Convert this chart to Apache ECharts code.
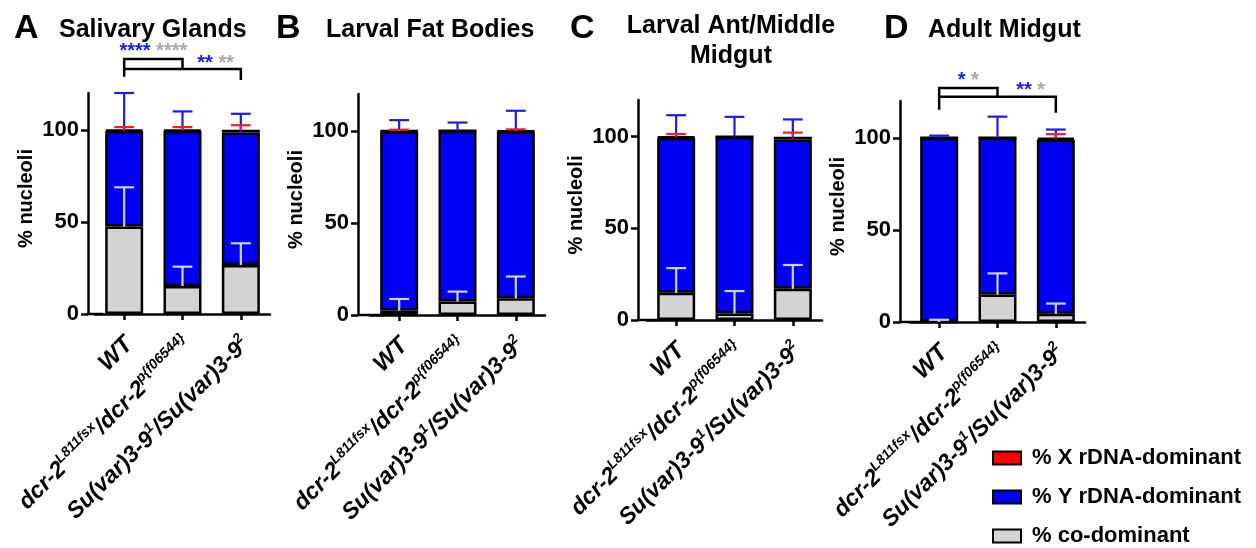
<!DOCTYPE html>
<html><head><meta charset="utf-8">
<script src="https://cdn.jsdelivr.net/npm/echarts@6/dist/echarts.min.js"></script>
<style>html,body{margin:0;padding:0;background:#fff;} #c{width:1256px;height:548px;}</style>
</head><body><div id="c"></div>
<script>
// ---------- data ----------
const categories = ['WT', 'dcr-2L811fsx/dcr-2p{f06544}', 'Su(var)3-91/Su(var)3-92'];
// label pieces: [style, text]  (n = normal, i = italic, s = superscript)
const labelParts = [
  [['n', 'WT']],
  [['i', 'dcr-2'], ['s', 'L811fsx'], ['i', '/dcr-2'], ['s', 'p{f06544}']],
  [['i', 'Su(var)3-9'], ['s', '1'], ['i', '/Su(var)3-9'], ['s', '2']]
];
const panelLetters = ['A', 'B', 'C', 'D'];
const panelTitles = ['Salivary Glands', 'Larval Fat Bodies', 'Larval Ant/Middle\nMidgut', 'Adult Midgut'];
const seriesNames = ['% co-dominant', '% Y rDNA-dominant', '% X rDNA-dominant'];
const legendOrder = ['% X rDNA-dominant', '% Y rDNA-dominant', '% co-dominant'];
const yTickValues = [0, 50, 100];
const yAxisName = '% nucleoli';

// Panel A – Salivary Glands
const coA = [47.5, 15.2, 26.6];
const coSdA = [21.3, 10.5, 11.8];
const yA = [51.9, 84.2, 71.9];
const ySdA = [20.6, 10.6, 10.2];
const xA = [0.6, 0.6, 1.5];
const xSdA = [1.5, 1.5, 2.5];

// Panel B – Larval Fat Bodies
const coB = [2.4, 7.3, 9.1];
const coSdB = [6.3, 5.4, 11.8];
const yB = [97.3, 92.7, 90.5];
const ySdB = [6.1, 4.5, 11.3];
const xB = [0.3, 0, 0.4];
const xSdB = [0.6, 0, 0.8];

// Panel C – Larval Ant/Middle Midgut
const coC = [14.8, 3.6, 17.0];
const coSdC = [13.5, 12.2, 13.0];
const yC = [84.6, 96.4, 81.5];
const ySdC = [12.3, 10.8, 10.9];
const xC = [0.6, 0, 1.5];
const xSdC = [1.4, 0, 2.2];

// Panel D – Adult Midgut
const coD = [0, 14.9, 4.5];
const coSdD = [1.2, 11.5, 5.5];
const yD = [100, 85.1, 94.5];
const ySdD = [1.2, 11.5, 5.5];
const xD = [0, 0, 1.0];
const xSdD = [0, 0, 2.0];

// significance stars (blue = Y rDNA, gray = co-dominant)
const sigA = [['****', '****'], ['**', '**']];
const sigD = [['*', '*'], ['**', '*']];

// ---------- layout / style ----------
const FONT = 'Arial, "Liberation Sans", Helvetica, sans-serif';
const panels = [
  {co: coA, coSd: coSdA, y: yA, ySd: ySdA, x: xA, xSd: xSdA},
  {co: coB, coSd: coSdB, y: yB, ySd: ySdB, x: xB, xSd: xSdB},
  {co: coC, coSd: coSdC, y: yC, ySd: ySdC, x: xC, xSd: xSdC},
  {co: coD, coSd: coSdD, y: yD, ySd: ySdD, x: xD, xSd: xSdD}
];
const grids = [
  {left: 95, top: 93, width: 175, height: 221, off: 7},
  {left: 370, top: 94, width: 175, height: 221, off: 12},
  {left: 647, top: 100, width: 175, height: 220, off: 9},
  {left: 910, top: 101, width: 175, height: 221, off: 10}
];
const COLORS = {co: '#d3d3d3', y: '#0000f5', x: '#ff0000'};
const ERR = {co: '#d2d2f4', y: '#1a1af5', x: '#ff1a1a'};

function richLabel(parts) {
  return parts.map(([st, txt]) => {
    if (txt.indexOf('}') < 0) return '{' + st + '|' + txt + '}';
    return txt.split('}').map(p => p ? '{' + st + '|' + p + '}' : '').join('}');
  }).join('');
}
const labelRich = labelParts.map(richLabel);
const richStyles = {
  n: {fontSize: 24, fontWeight: 'bold', fontFamily: FONT, color: '#000', padding: [14, 0, 0, 0]},
  i: {fontSize: 23, fontWeight: 'bold', fontStyle: 'italic', fontFamily: FONT, color: '#000', padding: [14, 0, 0, 0]},
  s: {fontSize: 14, fontWeight: 'bold', fontStyle: 'italic', fontFamily: FONT, color: '#000'}
};

function errRender(color) {
  return function (params, api) {
    const c = api.value(0), b = api.value(1), t = api.value(2);
    const p0 = api.coord([c, b]), p1 = api.coord([c, t]);
    const w = api.size([1, 0])[0] * 0.34;
    return {type: 'group', children: [
      {type: 'line', shape: {x1: p0[0], y1: p0[1], x2: p1[0], y2: p1[1]}, style: {stroke: color, lineWidth: 2.2}},
      {type: 'line', shape: {x1: p1[0] - w / 2, y1: p1[1], x2: p1[0] + w / 2, y2: p1[1]}, style: {stroke: color, lineWidth: 2.2}}
    ]};
  };
}

const option = {
  animation: false,
  backgroundColor: '#fff',
  title: [],
  grid: [], xAxis: [], yAxis: [], series: [],
  legend: {
    orient: 'vertical', left: 992, top: 447, height: 130, padding: 0,
    itemWidth: 28, itemHeight: 13, itemGap: 17,
    icon: 'rect', selectedMode: false, data: legendOrder,
    itemStyle: {borderColor: '#000', borderWidth: 2},
    textStyle: {fontSize: 22, fontWeight: 'bold', color: '#000', fontFamily: FONT, padding: [0, 0, 0, 6]}
  }
};

const letterPos = [{left: 9, top: 7}, {left: 271, top: 7}, {left: 565, top: 7}, {left: 879, top: 7}];
const titlePos = [{left: 54, top: 10}, {left: 321, top: 10}, {left: 726, top: 6, center: true}, {left: 923, top: 10}];

panels.forEach((p, i) => {
  const g = grids[i];
  option.title.push({left: letterPos[i].left, top: letterPos[i].top, text: panelLetters[i],
    textStyle: {fontSize: 34, fontWeight: 'bold', color: '#000', fontFamily: FONT}});
  option.title.push({left: titlePos[i].left, top: titlePos[i].top, text: panelTitles[i],
    textAlign: titlePos[i].center ? 'center' : 'left',
    textStyle: {fontSize: 25, fontWeight: 'bold', color: '#000', fontFamily: FONT, lineHeight: 30, align: titlePos[i].center ? 'center' : 'left'}});
  option.grid.push({left: g.left, top: g.top, width: g.width, height: g.height, containLabel: false, outerBoundsMode: 'none'});
  option.xAxis.push({
    type: 'category', gridIndex: i, data: categories,
    axisLine: {show: true, lineStyle: {color: '#000', width: 2.5}, symbol: ['rect', 'none'], symbolSize: [2.5, 2 * g.off + 2.5]},
    axisTick: {show: true, alignWithLabel: true, length: 6, lineStyle: {color: '#000', width: 2.5}},
    axisLabel: {interval: 0, rotate: 45, margin: 22, hideOverlap: false,
      fontSize: 14, fontWeight: 'bold', fontStyle: 'italic', fontFamily: FONT, color: '#000',
      formatter: (v, idx) => labelRich[idx], rich: richStyles}
  });
  option.yAxis.push({
    type: 'value', gridIndex: i, min: 0, max: 120, offset: g.off,
    axisLine: {show: true, lineStyle: {color: '#000', width: 2.5}},
    axisTick: {show: true, length: 7, lineStyle: {color: '#000', width: 2.5}, customValues: yTickValues},
    splitLine: {show: false},
    axisLabel: {fontSize: 22, fontWeight: 'bold', color: '#000', fontFamily: FONT, margin: 9, customValues: yTickValues},
    name: yAxisName, nameLocation: 'middle', nameGap: 52, nameMoveOverlap: false,
    nameTextStyle: {fontSize: 20, fontWeight: 'bold', color: '#000', fontFamily: FONT, padding: [0, 0, 0, 10]}
  });
  const common = {type: 'bar', xAxisIndex: i, yAxisIndex: i, stack: 'st' + i, barWidth: 38};
  option.series.push(Object.assign({}, common, {name: seriesNames[0], data: p.co,
    itemStyle: {color: COLORS.co, borderColor: '#000', borderWidth: 2.5}}));
  option.series.push(Object.assign({}, common, {name: seriesNames[1], data: p.y,
    itemStyle: {color: COLORS.y, borderColor: '#000', borderWidth: 2.5}}));
  option.series.push(Object.assign({}, common, {name: seriesNames[2], data: p.x,
    itemStyle: {color: COLORS.x, borderColor: '#000', borderWidth: 2.5}}));
  const errSets = [
    {key: 'co', base: j => p.co[j], sd: p.coSd},
    {key: 'y', base: j => p.co[j] + p.y[j], sd: p.ySd},
    {key: 'x', base: j => p.co[j] + p.y[j] + p.x[j], sd: p.xSd}
  ];
  errSets.forEach(es => {
    const data = [];
    categories.forEach((c, j) => { if (es.sd[j] > 0) data.push([j, es.base(j), es.base(j) + es.sd[j]]); });
    option.series.push({type: 'custom', xAxisIndex: i, yAxisIndex: i, clip: false, z: 5,
      renderItem: errRender(ERR[es.key]), encode: {x: 0, y: [1, 2]}, data: data, silent: true});
  });
});

const chart = echarts.init(document.getElementById('c'), null, {renderer: 'canvas'});
chart.setOption(option);

// significance brackets (positions in data units of each panel)
const bracketSpecs = [
  {panel: 0, sig: sigA, upper: 138.4, leftBottom: 128.8, midBottom: 133, lower: 133, rightBottom: 127, star1: 142.3, star2: 135.8},
  {panel: 3, sig: sigD, upper: 127, leftBottom: 115.2, midBottom: 122.3, lower: 122.3, rightBottom: 113.6, star1: 131, star2: 125.8}
];
const gfx = [];
bracketSpecs.forEach(b => {
  const P = (c, v) => chart.convertToPixel({xAxisIndex: b.panel, yAxisIndex: b.panel}, [c, v]);
  const x0 = P(0, 0)[0], x1 = P(1, 0)[0], x2 = P(2, 0)[0];
  const yy = v => P(0, v)[1];
  gfx.push({type: 'polyline', shape: {points: [[x0, yy(b.leftBottom)], [x0, yy(b.upper)], [x1, yy(b.upper)], [x1, yy(b.midBottom)]]},
    style: {stroke: '#000', lineWidth: 2.5, fill: null}});
  gfx.push({type: 'polyline', shape: {points: [[x0, yy(b.lower)], [x2, yy(b.lower)], [x2, yy(b.rightBottom)]]},
    style: {stroke: '#000', lineWidth: 2.5, fill: null}});
  const starTxt = s => '{b|' + s[0] + '} {g|' + s[1] + '}';
  const rich = {b: {fill: '#1a1aff', fontSize: 20, fontWeight: 'bold', fontFamily: FONT},
                g: {fill: '#a8a8a8', fontSize: 20, fontWeight: 'bold', fontFamily: FONT}};
  gfx.push({type: 'text', x: (x0 + x1) / 2, y: yy(b.star1), style: {text: starTxt(b.sig[0]), align: 'center', verticalAlign: 'middle', rich: rich, fontSize: 20}});
  gfx.push({type: 'text', x: (x1 + x2) / 2 + 4, y: yy(b.star2), style: {text: starTxt(b.sig[1]), align: 'center', verticalAlign: 'middle', rich: rich, fontSize: 20}});
});
chart.setOption({graphic: gfx});
</script></body></html>
